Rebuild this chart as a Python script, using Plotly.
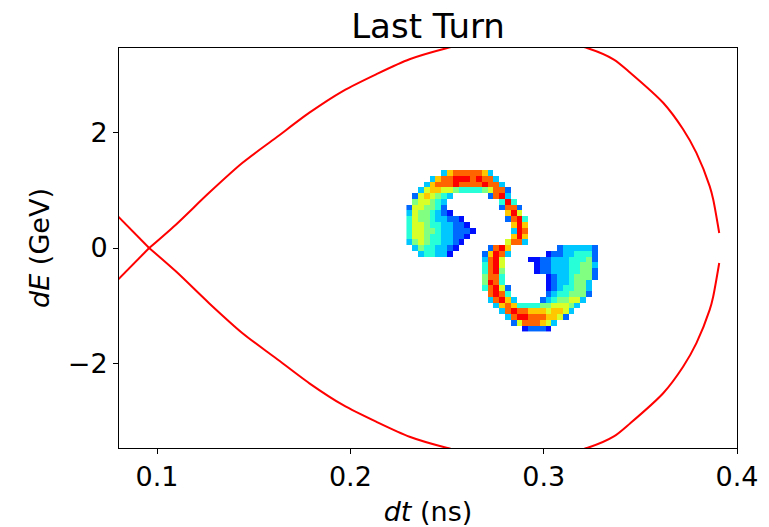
import plotly.graph_objects as go

# ---- separatrix ----
# outer branch left of the unstable fixed point
sep_left_dt = [0.0780, 0.0959]
sep_left_dE_upper = [0.61, 0.0]
sep_left_dE_lower = [-0.61, 0.0]
# bucket branch
sep_dt = [0.0959, 0.1097, 0.1269, 0.1442, 0.1615, 0.1788, 0.1961, 0.2133,
          0.2306, 0.2497, 0.2650, 0.2850, 0.3050, 0.3228, 0.3363, 0.3448, 0.3618,
          0.3721, 0.3790, 0.3859, 0.3877, 0.3908]
sep_dE_upper = [0.0, 0.405, 0.957, 1.478, 1.913, 2.348, 2.723, 3.014,
                3.275, 3.466, 3.58, 3.64, 3.60, 3.466, 3.27, 3.04, 2.52,
                2.06, 1.65, 1.07, 0.84, 0.26]
sep_dE_lower = [0.0, -0.405, -0.957, -1.478, -1.913, -2.348, -2.723, -3.014,
                -3.275, -3.466, -3.58, -3.64, -3.60, -3.466, -3.27, -3.04, -2.52,
                -2.06, -1.65, -1.07, -0.84, -0.26]

# ---- particle density histogram (bin centres + levels) ----
hist_dt = [0.2305, 0.2335, 0.2365, 0.2395, 0.2425, 0.2455, 0.2485, 0.2515, 0.2545,
           0.2575, 0.2605, 0.2635, 0.2665, 0.2695, 0.2725, 0.2755, 0.2785, 0.2815,
           0.2845, 0.2875, 0.2905, 0.2935, 0.2965, 0.2995, 0.3025, 0.3055, 0.3085,
           0.3115, 0.3145, 0.3175, 0.3205, 0.3235, 0.3265, 0.3295]
hist_dE = [1.4, 1.3, 1.2, 1.1, 1.0, 0.9, 0.8, 0.7, 0.6, 0.5, 0.4, 0.3, 0.2, 0.1, 0.0,
           -0.1, -0.2, -0.3, -0.4, -0.5, -0.6, -0.7, -0.8, -0.9, -1.0, -1.1, -1.2,
           -1.3, -1.4]
hist_levels = [
    "..................................",
    "......378888873...................",
    "....378899989883..................",
    "...37888988889883.................",
    "..3677665444456882................",
    ".2676543......2893................",
    ".566543.........494...............",
    "2665542.........2882..............",
    "36554321.........796..............",
    "4655433221.......2894.............",
    "46654433221.......797.............",
    "466554332221......398.............",
    "46654433221.......797.............",
    "3565443321.......6883.............",
    ".35443321.....2897........2333332.",
    "..344331.....27983......122334442.",
    ".............3896....112233344452.",
    ".............4896.....12233344553.",
    ".............4895.....12233344552.",
    ".............5884.......123345552.",
    ".............5984.......12334553..",
    ".............48962......12344553..",
    "..............8984......23445552..",
    "..............38973....23455663...",
    "...............378744445566653....",
    "................3898877767763.....",
    ".................38998887762......",
    "..................26888763........",
    "....................12221.........",
]

z = [[None if ch == "." else int(ch) for ch in row] for row in hist_levels]

jet_part = [[0.0, "#0010ff"], [0.16, "#0080ff"], [0.32, "#00ffff"], [0.5, "#80ff80"],
            [0.68, "#ffff00"], [0.84, "#ff8000"], [1.0, "#ff0000"]]

fig = go.Figure()
fig.add_trace(go.Heatmap(x=hist_dt, y=hist_dE, z=z, zmin=1, zmax=9,
                         colorscale=jet_part, showscale=False, hoverinfo="skip"))
line_style = dict(color="#ff0000", width=2)
fig.add_trace(go.Scatter(x=sep_left_dt, y=sep_left_dE_upper, mode="lines",
                         line=line_style, showlegend=False))
fig.add_trace(go.Scatter(x=sep_left_dt, y=sep_left_dE_lower, mode="lines",
                         line=line_style, showlegend=False))
fig.add_trace(go.Scatter(x=sep_dt, y=sep_dE_upper, mode="lines",
                         line=dict(line_style, shape="spline", smoothing=0.8),
                         showlegend=False))
fig.add_trace(go.Scatter(x=sep_dt, y=sep_dE_lower, mode="lines",
                         line=dict(line_style, shape="spline", smoothing=0.8),
                         showlegend=False))

font_family = "DejaVu Sans"
axis_common = dict(showgrid=False, zeroline=False, showline=True, mirror=True,
                   linecolor="#000000", linewidth=1, ticks="outside", ticklen=5,
                   tickwidth=1, tickcolor="#000000", automargin=False,
                   tickfont=dict(family=font_family, size=27, color="#000000"))

W, H = 769, 527
fig.update_layout(
    width=W, height=H,
    margin=dict(l=119, r=32, t=48, b=79),
    paper_bgcolor="white", plot_bgcolor="white",
    title=dict(text="Last Turn", x=0.5, xref="paper", y=1 - 26 / H, yref="container",
               yanchor="middle", xanchor="center",
               font=dict(family=font_family, size=34, color="#000000")),
    xaxis=dict(range=[0.0803, 0.4], tickvals=[0.1, 0.2, 0.3, 0.4],
               ticktext=["0.1", "0.2", "0.3", "0.4"],
               title=dict(text="<i>dt</i> (ns)", standoff=18,
                          font=dict(family=font_family, size=27, color="#000000")),
               **axis_common),
    yaxis=dict(range=[-3.47, 3.47], tickvals=[-2, 0, 2],
               ticktext=["\u22122", "0", "2"],
               title=dict(text="<i>dE</i> (GeV)", standoff=10,
                          font=dict(family=font_family, size=27, color="#000000")),
               **axis_common),
)

# remove the default 8px page margin so the figure fills the window exactly
fig.write_html("out.html", config={"displayModeBar": False},
               post_script="document.body.style.margin='0px';")
